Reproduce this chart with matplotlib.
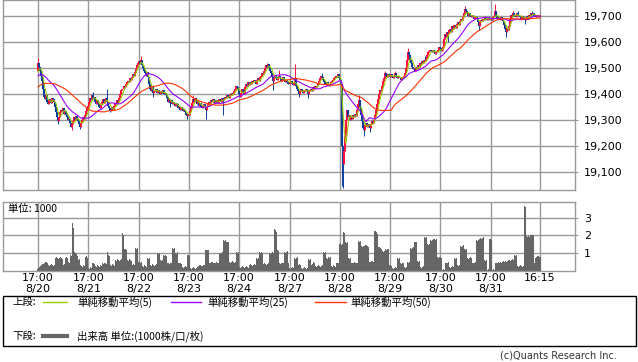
import numpy as np
import pandas as pd
import matplotlib
matplotlib.use("Agg")
import matplotlib.pyplot as plt
from matplotlib.lines import Line2D
from matplotlib.patches import Rectangle

# closes before the visible window (only used to warm up the moving averages)
prev_close = [19340, 19335, 19350, 19345, 19360, 19355, 19350, 19365, 19370, 19360,
              19375, 19385, 19380, 19390, 19395, 19400, 19390, 19405, 19410, 19415,
              19420, 19425, 19415, 19430, 19435,
              19440, 19450, 19445, 19460, 19455, 19470, 19465, 19475, 19470, 19480,
              19475, 19470, 19460, 19465, 19470, 19480, 19475, 19485, 19470, 19460,
              19465, 19475, 19480, 19490]

# closes, one list per session (session starts 17:00)
s0820 = [19520, 19505, 19490, 19470, 19450, 19420, 19390, 19380, 19395, 19370,
         19360, 19380, 19375, 19365, 19385, 19380, 19370, 19350, 19330, 19310,
         19295, 19310, 19330, 19340, 19335, 19345, 19325, 19335, 19320, 19310,
         19300, 19305, 19290, 19275, 19285, 19295, 19310, 19300, 19315, 19305,
         19295, 19285, 19275, 19290, 19300, 19310, 19305, 19320, 19335, 19345]
s0821 = [19355, 19370, 19385, 19375, 19395, 19380, 19390, 19370, 19360, 19375,
         19365, 19350, 19345, 19360, 19370, 19380, 19365, 19375, 19385, 19370,
         19355, 19345, 19335, 19340, 19350, 19340, 19355, 19365, 19360, 19375,
         19370, 19385, 19400, 19415, 19420, 19430, 19425, 19440, 19445, 19450,
         19445, 19460, 19455, 19465, 19475, 19470, 19485, 19495, 19510, 19520]
s0822 = [19525, 19515, 19530, 19510, 19500, 19490, 19480, 19470, 19485, 19465,
         19440, 19420, 19410, 19425, 19405, 19415, 19410, 19420, 19405, 19415,
         19410, 19400, 19410, 19405, 19415, 19400, 19405, 19395, 19385, 19370,
         19380, 19365, 19375, 19360, 19370, 19365, 19355, 19365, 19360, 19345,
         19350, 19340, 19350, 19345, 19335, 19340, 19330, 19320, 19315, 19325]
s0823 = [19320, 19335, 19350, 19365, 19380, 19370, 19385, 19375, 19360, 19370,
         19355, 19365, 19350, 19345, 19355, 19360, 19350, 19340, 19355, 19360,
         19370, 19365, 19375, 19370, 19380, 19375, 19365, 19370, 19375, 19365,
         19380, 19375, 19370, 19385, 19375, 19380, 19390, 19385, 19395, 19390,
         19385, 19400, 19395, 19405, 19400, 19410, 19420, 19430, 19425, 19415]
s0824 = [19400, 19390, 19405, 19420, 19410, 19400, 19425, 19440, 19430, 19445,
         19435, 19445, 19440, 19450, 19445, 19455, 19450, 19440, 19455, 19460,
         19450, 19465, 19470, 19480, 19475, 19490, 19500, 19510, 19505, 19515,
         19500, 19490, 19480, 19465, 19450, 19460, 19470, 19465, 19455, 19460,
         19470, 19460, 19450, 19455, 19465, 19450, 19445, 19455, 19445, 19440]
s0827 = [19445, 19450, 19440, 19435, 19445, 19460, 19430, 19420, 19410, 19400,
         19410, 19420, 19415, 19405, 19415, 19410, 19420, 19415, 19400, 19410,
         19415, 19420, 19410, 19425, 19420, 19430, 19425, 19430, 19440, 19450,
         19460, 19470, 19465, 19455, 19445, 19440, 19435, 19445, 19440, 19430,
         19440, 19445, 19450, 19455, 19460, 19465, 19470, 19465, 19475, 19460]
s0828 = [19455, 19440, 19200, 19130, 19180, 19240, 19300, 19340, 19310, 19320,
         19300, 19315, 19305, 19320, 19310, 19325, 19315, 19340, 19360, 19375,
         19350, 19320, 19295, 19270, 19260, 19280, 19290, 19275, 19285, 19280,
         19270, 19285, 19295, 19290, 19300, 19320, 19340, 19360, 19380, 19400,
         19415, 19410, 19430, 19450, 19460, 19480, 19470, 19465, 19475, 19470]
s0829 = [19465, 19475, 19470, 19460, 19470, 19480, 19465, 19460, 19470, 19465,
         19460, 19455, 19465, 19460, 19470, 19480, 19500, 19530, 19560, 19550,
         19530, 19520, 19505, 19495, 19500, 19490, 19505, 19495, 19510, 19505,
         19520, 19515, 19525, 19520, 19530, 19525, 19535, 19550, 19560, 19565,
         19570, 19565, 19560, 19570, 19560, 19555, 19565, 19560, 19570, 19580]
s0830 = [19575, 19565, 19570, 19580, 19610, 19630, 19620, 19640, 19630, 19645,
         19650, 19640, 19660, 19650, 19665, 19655, 19670, 19675, 19665, 19680,
         19690, 19685, 19695, 19710, 19725, 19720, 19710, 19700, 19710, 19700,
         19695, 19705, 19700, 19690, 19700, 19695, 19690, 19675, 19660, 19680,
         19685, 19680, 19690, 19685, 19695, 19690, 19685, 19695, 19690, 19685]
s0831 = [19690, 19685, 19695, 19700, 19720, 19700, 19690, 19695, 19690, 19685,
         19695, 19690, 19680, 19665, 19650, 19640, 19655, 19645, 19660, 19690,
         19705, 19700, 19710, 19700, 19705, 19695, 19710, 19705, 19700, 19695,
         19690, 19700, 19695, 19690, 19685, 19695, 19700, 19690, 19705, 19700,
         19710, 19705, 19710, 19700, 19705, 19695, 19705, 19700, 19695, 19705]

# long wicks (bar index, price)
hi_idx = [0, 55, 69, 102, 154, 228, 240, 255, 282, 319, 345, 355, 368, 385, 424, 454, 472, 477, 491]
hi_val = [19540, 19408, 19418, 19545, 19395, 19520, 19492, 19515, 19480, 19395, 19490, 19490,
          19575, 19545, 19740, 19745, 19720, 19720, 19720]
lo_idx = [20, 34, 42, 72, 114, 131, 148, 167, 184, 234, 259, 268, 302, 303, 324, 330, 408, 438, 465, 484]
lo_val = [19285, 19262, 19265, 19330, 19390, 19350, 19305, 19305, 19320, 19415, 19390, 19385,
          19045, 19040, 19240, 19255, 19600, 19645, 19620, 19670]

# volume (x1000), one list per session
v0820 = [0.1, 0.15, 0.2, 0.25, 0.3, 0.35, 0.3, 0.4, 0.5, 0.45,
         0.3, 0.25, 0.3, 0.35, 0.3, 0.25, 0.3, 0.7, 0.75, 0.7,
         0.65, 0.7, 0.75, 0.7, 0.65, 0.3, 0.35, 0.7, 0.75, 0.7,
         0.5, 0.45, 0.9, 0.85, 2.7, 2.4, 1.05, 1.0, 0.95, 0.8,
         0.6, 0.65, 0.3, 0.25, 0.2, 0.3, 0.25, 0.75, 0.8, 0.7]
v0821 = [0.15, 0.1, 0.2, 0.15, 0.4, 0.45, 0.35, 0.25, 0.2, 0.3,
         0.25, 0.2, 0.3, 0.25, 0.4, 0.35, 0.45, 0.4, 0.35, 1.05,
         0.9, 0.8, 0.3, 0.25, 0.35, 0.3, 0.25, 0.6, 0.55, 0.65,
         0.6, 0.55, 0.6, 0.65, 2.15, 2.0, 1.2, 1.25, 1.15, 0.6,
         0.55, 0.65, 0.6, 0.55, 0.3, 0.35, 0.3, 1.3, 1.25, 1.3]
v0822 = [0.5, 0.55, 0.45, 0.5, 0.25, 0.2, 0.3, 0.25, 0.2, 0.7,
         0.65, 0.7, 0.3, 0.25, 0.35, 0.3, 0.25, 0.3, 0.35, 1.0,
         0.95, 1.0, 0.6, 0.55, 0.6, 0.9, 0.85, 0.9, 0.8, 0.4,
         0.45, 0.35, 0.4, 0.45, 1.3, 1.25, 1.3, 1.0, 0.95, 1.05,
         0.4, 0.45, 0.4, 0.35, 0.2, 0.15, 0.2, 0.25, 0.2, 0.9]
v0823 = [0.9, 0.85, 0.15, 0.1, 0.15, 0.2, 0.15, 0.1, 0.15, 0.2,
         0.25, 0.3, 0.25, 0.2, 0.25, 0.3, 0.25, 1.15, 1.1, 1.15,
         0.45, 0.4, 0.45, 0.5, 0.45, 0.4, 0.45, 0.5, 0.45, 0.4,
         1.0, 0.95, 1.0, 1.05, 1.75, 1.7, 1.75, 1.65, 1.6, 1.65,
         0.5, 0.45, 0.5, 0.55, 0.5, 0.45, 0.5, 1.05, 1.0, 1.05]
v0824 = [0.2, 0.15, 0.2, 0.25, 0.2, 0.15, 0.2, 0.25, 0.2, 0.15,
         0.3, 0.35, 0.3, 0.25, 0.3, 0.35, 0.3, 0.7, 0.65, 0.7,
         1.05, 1.0, 1.05, 1.0, 0.35, 0.4, 0.35, 0.3, 0.35, 0.4,
         1.0, 0.95, 1.0, 1.05, 1.0, 2.35, 2.3, 2.2, 1.15, 1.1,
         0.4, 0.35, 0.4, 0.45, 0.4, 1.05, 1.0, 1.05, 1.1, 0.4]
v0827 = [0.15, 0.1, 0.15, 0.2, 0.15, 0.7, 0.65, 0.7, 0.75, 0.3,
         0.35, 0.3, 0.15, 0.1, 0.15, 0.2, 0.15, 0.1, 0.15, 0.65,
         0.6, 0.65, 0.3, 0.35, 0.5, 0.45, 0.25, 0.2, 0.25, 0.3,
         0.25, 0.2, 0.25, 0.3, 1.05, 1.0, 1.05, 0.7, 0.65, 0.75,
         0.7, 0.75, 0.25, 0.2, 0.3, 0.25, 0.2, 0.4, 0.45, 0.4]
v0828 = [1.5, 1.55, 1.45, 1.5, 2.2, 2.15, 1.6, 1.55, 1.6, 0.7,
         0.65, 0.7, 0.45, 0.4, 0.45, 0.5, 0.45, 0.4, 0.45, 1.7,
         1.65, 1.7, 1.4, 1.35, 1.4, 1.4, 1.45, 1.4, 1.35, 0.5,
         0.45, 0.5, 0.55, 0.5, 0.45, 2.25, 2.2, 2.1, 1.3, 1.35,
         1.3, 1.25, 1.1, 1.05, 1.1, 1.2, 1.15, 1.2, 1.25, 0.3]
v0829 = [0.3, 0.25, 0.15, 0.1, 0.15, 0.2, 0.15, 0.7, 0.65, 0.7,
         0.4, 0.35, 0.4, 0.45, 0.2, 0.15, 0.2, 0.5, 0.45, 0.5,
         1.3, 1.25, 1.3, 1.35, 1.65, 1.6, 1.65, 0.55, 0.5, 0.55,
         0.2, 0.15, 0.2, 0.25, 1.9, 1.85, 1.9, 1.5, 1.45, 1.5,
         1.75, 1.7, 1.75, 1.8, 1.8, 1.75, 1.8, 0.75, 0.7, 0.75]
v0830 = [0.75, 0.7, 0.05, 0.1, 0.05, 0.45, 0.4, 0.45, 0.5, 0.2,
         0.15, 0.2, 0.25, 0.2, 0.7, 0.65, 0.7, 0.3, 0.25, 0.3,
         1.4, 1.35, 1.4, 1.45, 1.2, 1.15, 1.2, 0.7, 0.65, 0.7,
         0.75, 0.7, 0.45, 0.4, 0.45, 0.5, 1.75, 1.7, 1.75, 1.8,
         1.85, 1.8, 1.85, 1.9, 0.6, 0.55, 0.6, 0.05, 0.1, 1.8]
v0831 = [1.8, 1.75, 0.05, 0.1, 0.05, 0.45, 0.4, 0.45, 0.5, 0.45,
         0.5, 0.45, 0.5, 0.55, 0.5, 0.55, 0.5, 0.55, 0.6, 0.6,
         0.55, 0.6, 0.65, 0.6, 0.9, 0.85, 0.9, 0.25, 0.2, 0.25,
         0.3, 0.25, 0.2, 0.25, 3.7, 3.6, 1.95, 1.9, 1.95, 1.9,
         2.0, 1.95, 2.0, 0.45, 0.4, 0.7, 0.75, 0.8, 0.7, 0.75]

session_days = ["8/20", "8/21", "8/22", "8/23", "8/24", "8/27", "8/28", "8/29", "8/30", "8/31"]
ma_periods = [5, 25, 50]
ma_colors = ["#99cc00", "#9900ff", "#ff3300"]

closes = np.array(s0820 + s0821 + s0822 + s0823 + s0824 + s0827 + s0828 + s0829 + s0830 + s0831, float)
vols = np.array(v0820 + v0821 + v0822 + v0823 + v0824 + v0827 + v0828 + v0829 + v0830 + v0831)
assert len(closes) == 500 and len(vols) == 500, (len(closes), len(vols))
n = len(closes)

opens = np.concatenate([[prev_close[-1]], closes[:-1]])
highs = np.maximum(opens, closes)
lows = np.minimum(opens, closes)
highs[hi_idx] = hi_val
lows[lo_idx] = lo_val

full = pd.Series(prev_close + list(closes))
mas = [full.rolling(p).mean().to_numpy()[-n:] for p in ma_periods]

pos = np.linspace(0, 10, n)
bw = pos[1] - pos[0]
ticks = list(pos[::50]) + [pos[-1]]
tick_labels = ["17:00\n" + d for d in session_days] + ["16:15\n"]

W, H = 638, 362
fig = plt.figure(figsize=(W / 100, H / 100), dpi=100)
ax = fig.add_axes([3 / W, 1 - 190 / H, 572 / W, 190 / H])
axv = fig.add_axes([3 / W, 1 - 270.5 / H, 572 / W, 68.5 / H])

grid_c = "#999999"
for a in (ax, axv):
    a.set_xlim(-0.697, 10.697)
    a.set_xticks(ticks)
    a.grid(True, color=grid_c, lw=1)
    a.set_axisbelow(True)
    for s in a.spines.values():
        s.set_color(grid_c)
        s.set_linewidth(1)
    a.yaxis.tick_right()
    a.tick_params(axis="y", length=2.5, color=grid_c, labelsize=8, pad=4)

# candles
up = closes >= opens
col = np.where(up, "#ff1040", "#0a3d9c")
ax.vlines(pos, lows, highs, colors=col, lw=0.7)
body_lo = np.minimum(opens, closes)
body_hi = np.maximum(np.maximum(opens, closes), body_lo + 3)
ax.vlines(pos, body_lo, body_hi, colors=col, lw=1.5)

for m, c in zip(mas, ma_colors):
    ax.plot(pos, m, color=c, lw=0.8)

ax.set_ylim(19030.8, 19761.5)
ax.set_yticks(range(19100, 19701, 100))
ax.set_yticklabels([f"{v:,}" for v in range(19100, 19701, 100)])
ax.tick_params(axis="x", length=0, labelbottom=False)

# volume
axv.bar(pos, vols, width=bw * 1.1, color="#666666", linewidth=0)
axv.set_ylim(0, 3.9)
axv.set_yticks([1, 2, 3])
axv.set_xticklabels(tick_labels, fontsize=8, linespacing=1.05)
axv.tick_params(axis="x", length=0, pad=2)
axv.text(0.009, 0.9, "単位: 1000", transform=axv.transAxes, fontsize=7.5,
         va="center", ha="left", family=["Noto Sans CJK JP", "DejaVu Sans"])

# legend box
def fx(x):
    return x / W

def fy(y):
    return 1 - y / H

fig.add_artist(Rectangle((fx(3), fy(346)), fx(633), 50 / H, transform=fig.transFigure,
                         fill=False, ec="black", lw=1))
jp = ["Noto Sans CJK JP", "DejaVu Sans"]
fig.text(fx(12), fy(302), "上段:", fontsize=7.5, va="center", family=jp)
fig.text(fx(12), fy(336), "下段:", fontsize=7.5, va="center", family=jp)
legend_x = [(43, 67, 77), (171, 201, 207), (315, 346, 350)]
for (x0, x1, tx), c, p in zip(legend_x, ma_colors, ma_periods):
    fig.add_artist(Line2D([fx(x0), fx(x1)], [fy(302), fy(302)], color=c, lw=1,
                          transform=fig.transFigure))
    fig.text(fx(tx), fy(302), f"単純移動平均({p})", fontsize=7.5, va="center", family=jp)
fig.add_artist(Line2D([fx(43), fx(67)], [fy(336), fy(336)], color="#666666", lw=3,
                      transform=fig.transFigure))
fig.text(fx(77), fy(336), "出来高 単位:(1000株/口/枚)", fontsize=7.5, va="center", family=jp)
fig.text(fx(617), fy(356), "(c)Quants Research Inc.", fontsize=7, va="center", ha="right",
         color="#333333")

fig.savefig("out.png", dpi=100)
